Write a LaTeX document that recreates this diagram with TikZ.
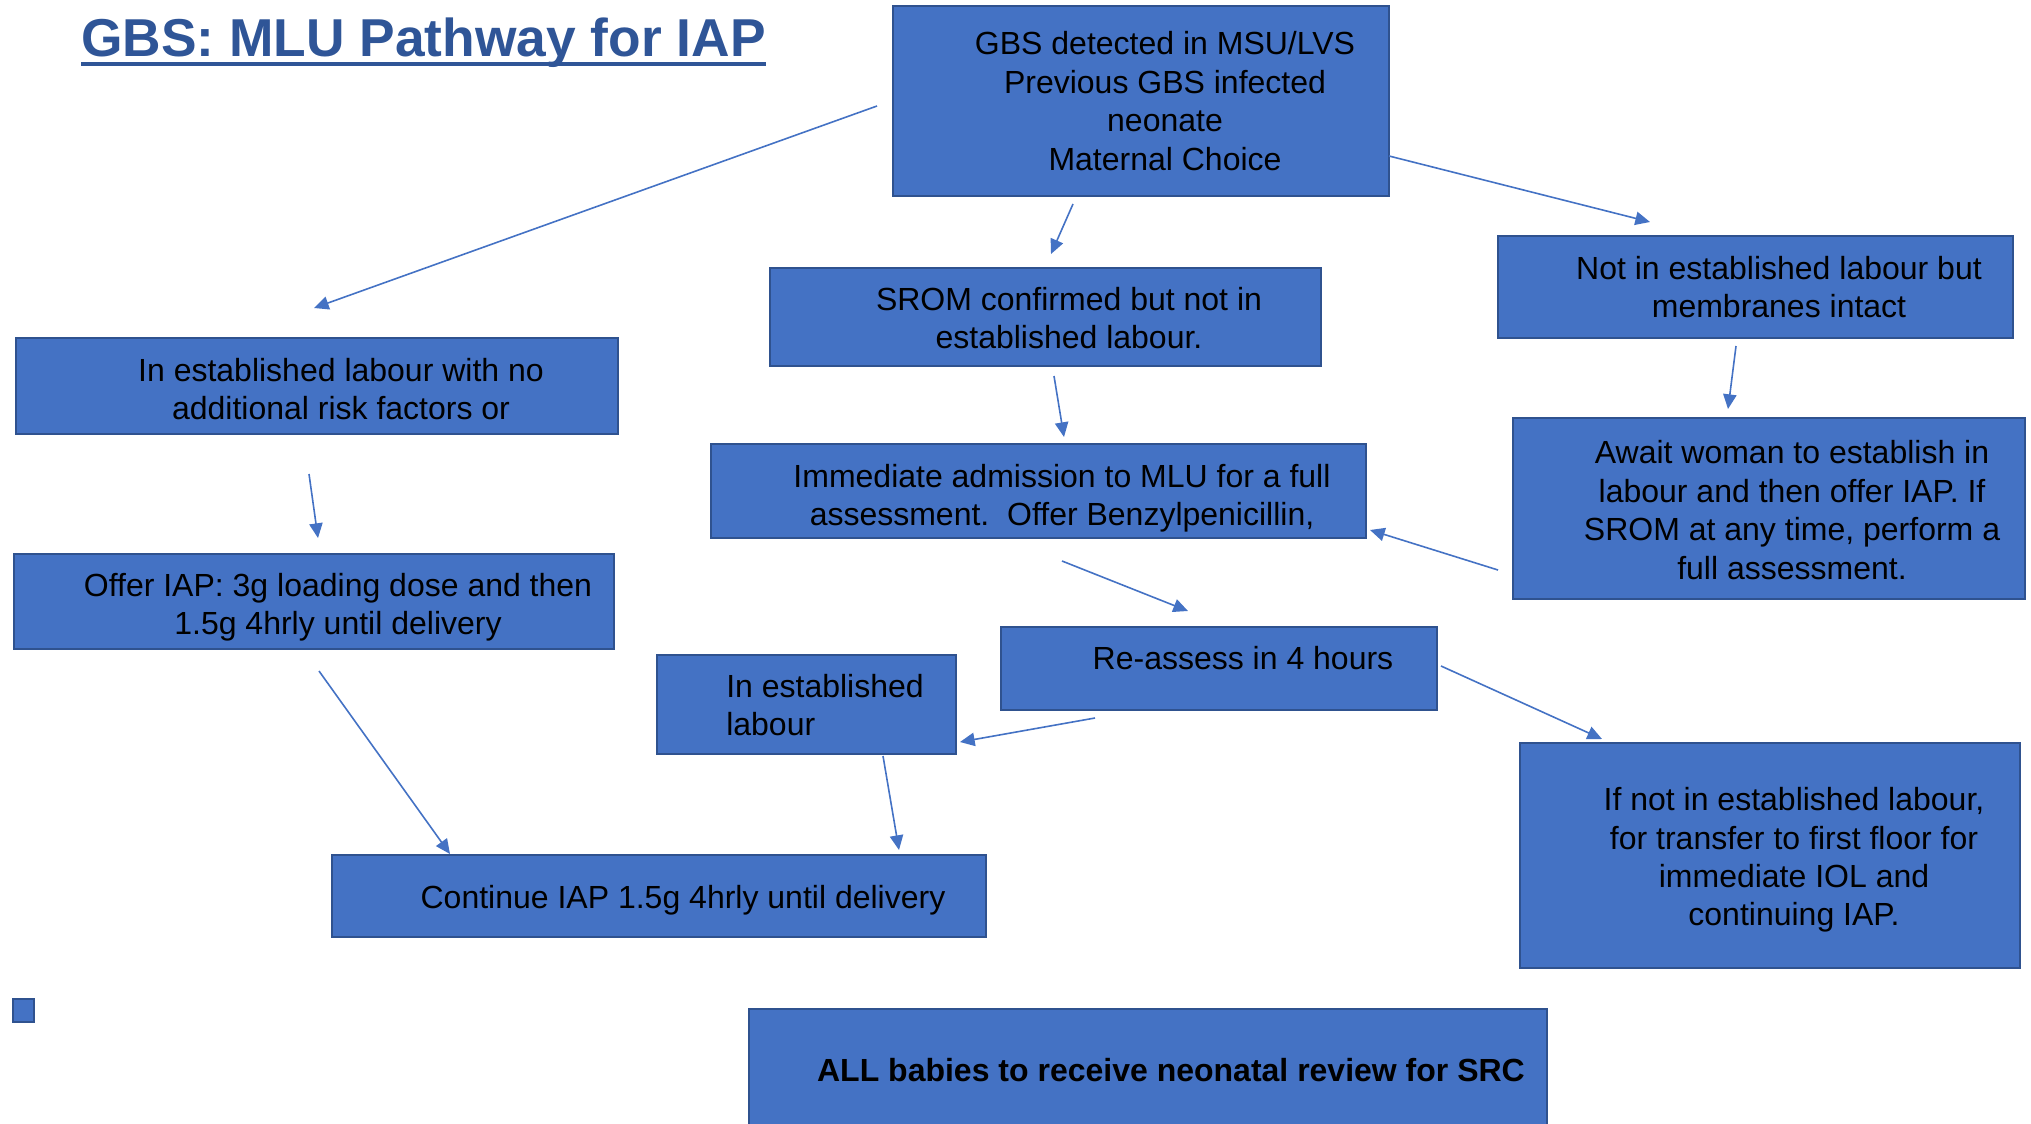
\documentclass[tikz,border=0pt]{standalone}
\usepackage{fontspec}
\setmainfont{Liberation Sans}
\usetikzlibrary{arrows.meta,fit}
\definecolor{boxblue}{HTML}{4472C4}
\definecolor{boxedge}{HTML}{2F528F}
\definecolor{titleblue}{HTML}{2F5597}
\definecolor{arrowblue}{HTML}{4472C4}
\begin{document}
\begin{tikzpicture}[x=0.75pt,y=-0.75pt,
  box/.style={draw=boxedge, fill=boxblue, line width=1.5pt, inner sep=0pt},
  txt/.style={align=center, inner sep=0pt, font=\fontsize{24}{28.8}\selectfont, text=black},
  conn/.style={draw=arrowblue, line width=1.2pt, -{Triangle[length=11pt,width=10pt]}}]
\useasboundingbox (0,0) rectangle (2031,1124);
% title
\node[anchor=base west, inner sep=0pt, text=titleblue, font=\fontsize{40}{48}\selectfont\bfseries] (title) at (81,57) {GBS: MLU Pathway for IAP};
\draw[titleblue, line width=3pt] ([yshift=-5.3pt]title.base west) -- ([yshift=-5.3pt]title.base east);
% boxes
\node[box, fit={(893,6) (1389,196)}] (gbs) {};
\node[txt] (gbst) at (1165,101) {GBS detected in MSU/LVS\\Previous GBS infected\\neonate\\Maternal Choice};
\node[box, fit={(770,268) (1321,366)}] (srom) {};
\node[txt] (sromt) at (1069,318) {SROM confirmed but not in\\established labour.};
\node[box, fit={(1498,236) (2013,338)}] (notin) {};
\node[txt] (notint) at (1779,287) {Not in established labour but\\membranes intact};
\node[box, fit={(16,338) (618,434)}] (inest) {};
\node[txt] (inestt) at (341,389) {In established labour with no\\additional risk factors or};
\node[box, fit={(711,444) (1366,538)}] (immed) {};
\node[txt] (immedt) at (1062,498) {Immediate admission to MLU for a full\\assessment.\ \ Offer Benzylpenicillin,};
\node[box, fit={(1513,418) (2025,599)}] (await) {};
\node[txt] (awaitt) at (1792,510) {Await woman to establish in\\labour and then offer IAP. If\\SROM at any time, perform a\\full assessment.};
\node[box, fit={(14,554) (614,649)}] (offer) {};
\node[txt] (offert) at (338,607) {Offer IAP: 3g loading dose and then\\1.5g 4hrly until delivery};
\node[box, fit={(1001,627) (1437,710)}] (reass) {};
\node[txt] (reasst) at (1243,658) {Re-assess in 4 hours};
\node[box, fit={(657,655) (956,754)}] (inlab) {};
\node[txt, align=left, anchor=west] (inlabt) at (726,705) {In established\\labour};
\node[box, fit={(332,855) (986,937)}] (cont) {};
\node[txt] (contt) at (683,900) {Continue IAP 1.5g 4hrly until delivery};
\node[box, fit={(1520,743) (2020,968)}] (ifnot) {};
\node[txt] (ifnott) at (1794,860) {If not in established labour,\\for transfer to first floor for\\immediate IOL and\\continuing IAP.};
\node[box, fit={(13,999) (34,1022)}] (sq) {};
\node[box, fit={(749,1009) (1547,1140)}] (allb) {};
\node[txt, font=\fontsize{24}{28.8}\selectfont\bfseries] (allbt) at (1171,1070) {ALL babies to receive neonatal review for SRC};
% connector end points
\coordinate (a1s) at (877,106);  \coordinate (a1e) at (314,308);
\coordinate (a2s) at (1073,204); \coordinate (a2e) at (1051,254);
\coordinate (a3s) at (1389,156); \coordinate (a3e) at (1650,222);
\coordinate (a4s) at (1736,346); \coordinate (a4e) at (1728,409);
\coordinate (a5s) at (309,474);  \coordinate (a5e) at (318,538);
\coordinate (a6s) at (1054,376); \coordinate (a6e) at (1064,437);
\coordinate (a7s) at (1498,570); \coordinate (a7e) at (1370,530);
\coordinate (a8s) at (1062,561); \coordinate (a8e) at (1188,611);
\coordinate (a9s) at (1095,718); \coordinate (a9e) at (960,742);
\coordinate (a10s) at (1441,666); \coordinate (a10e) at (1602,739);
\coordinate (a11s) at (319,671); \coordinate (a11e) at (450,854);
\coordinate (a12s) at (883,756); \coordinate (a12e) at (899,850);
\foreach \i in {1,...,12} \draw[conn] (a\i s) -- (a\i e);
\end{tikzpicture}
\end{document}
